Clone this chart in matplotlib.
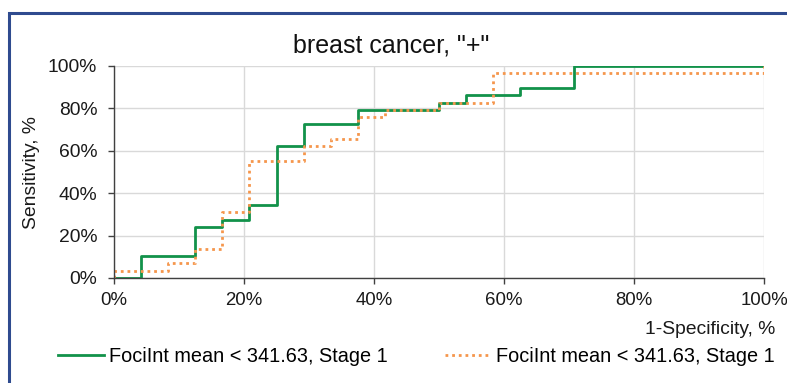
import matplotlib
matplotlib.use("Agg")
import matplotlib.pyplot as plt
from matplotlib.patches import Rectangle
from matplotlib.ticker import PercentFormatter, MultipleLocator

plt.rcParams['font.family'] = ['Liberation Sans', 'DejaVu Sans']

# Courbes ROC (1-spécificité, sensibilité) en %, sommets des marches
fpr_vert = [0, 4.17, 12.5, 16.67, 20.83, 25.0, 29.17, 37.5, 50.0, 54.17, 62.5, 70.83, 100]
tpr_vert = [0, 10.34, 24.14, 27.59, 34.48, 62.07, 72.41, 79.31, 82.76, 86.21, 89.66, 100, 100]

fpr_orange = [0, 0, 8.33, 12.5, 16.67, 20.83, 29.17, 33.33, 37.5, 41.67, 50.0, 58.33, 100, 100]
tpr_orange = [0, 3.45, 6.9, 13.79, 31.03, 55.17, 62.07, 65.52, 75.86, 79.31, 82.76, 96.55, 96.55, 100]

label_vert = "FociInt mean < 341.63, Stage 1"
label_orange = "FociInt mean < 341.63, Stage 1"

W, H = 787, 383
fig = plt.figure(figsize=(W / 100, H / 100), dpi=100)
ax = fig.add_axes([114 / W, (H - 278) / H, 650 / W, 212 / H])

# cadre bleu de la zone du graphique
fig.add_artist(Rectangle((8.5 / W, -0.1), 1.2, 1.1 - 13.5 / H,
                         transform=fig.transFigure, fill=False,
                         edgecolor='#2F4B8F', lw=2.2, clip_on=False))

ax.step(fpr_vert, tpr_vert, where='post', color='#12924A', lw=2.0,
        label=label_vert, zorder=3)
ax.step(fpr_orange, tpr_orange, where='post', color='#F5964C', lw=2.0,
        linestyle=(0, (1, 1.4)), label=label_orange, zorder=4)

ax.set_xlim(0, 100)
ax.set_ylim(0, 100)
ax.xaxis.set_major_locator(MultipleLocator(20))
ax.yaxis.set_major_locator(MultipleLocator(20))
ax.xaxis.set_major_formatter(PercentFormatter(xmax=100, decimals=0))
ax.yaxis.set_major_formatter(PercentFormatter(xmax=100, decimals=0))

ax.grid(True, color='#D9D9D9', lw=1.0)
ax.set_axisbelow(True)
for s in ['top', 'right']:
    ax.spines[s].set_visible(False)
for s in ['left', 'bottom']:
    ax.spines[s].set_color('#404040')
    ax.spines[s].set_linewidth(1.0)
    ax.spines[s].set_zorder(5)

ax.tick_params(axis='both', direction='out', length=4, width=1.0,
               color='#404040', labelsize=13.9, labelcolor='#1A1A1A')
ax.tick_params(axis='x', pad=6, labelsize=13.4)
ax.tick_params(axis='y', pad=8)

# titres
fig.text(391.5 / W, 1 - 45 / H, 'breast cancer, "+"', ha='center', va='center',
         fontsize=18, color='#111111')
fig.text(775 / W, 1 - 329 / H, "1-Specificity, %", ha='right', va='center',
         fontsize=13.9, color='#1A1A1A')
fig.text(32 / W, 1 - 173 / H, "Sensitivity, %", ha='center', va='center',
         rotation=90, fontsize=13.9, color='#1A1A1A')

fig.legend(loc='center', bbox_to_anchor=(416.5 / W, 1 - 356 / H), ncol=2,
           frameon=False, fontsize=14.3, handlelength=2.35, handletextpad=0.25,
           columnspacing=2.85, borderaxespad=0, borderpad=0)

fig.savefig("out.png", dpi=100)
